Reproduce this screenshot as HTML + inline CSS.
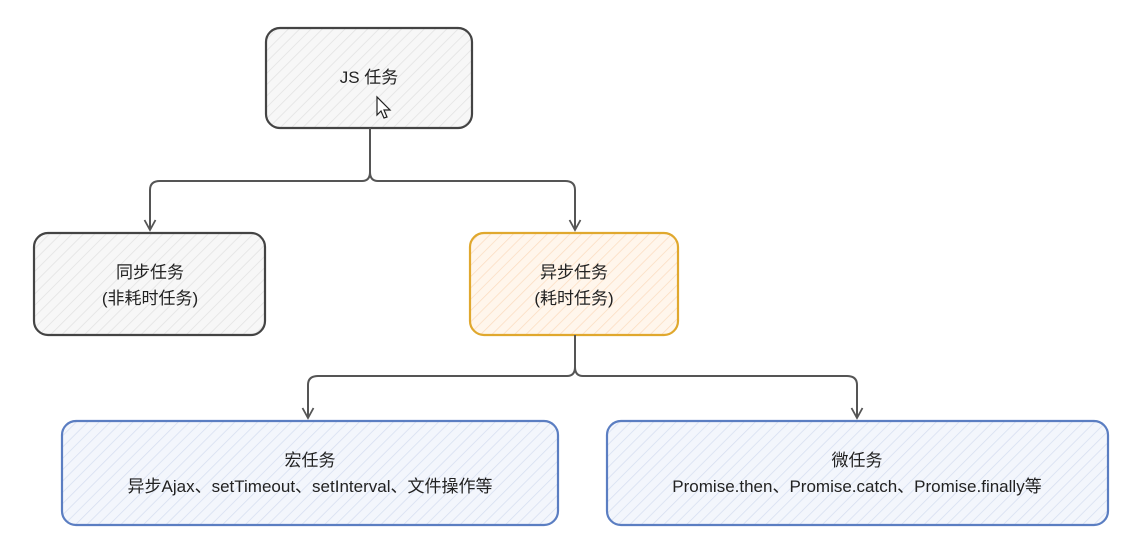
<!DOCTYPE html>
<html><head><meta charset="utf-8"><style>
html,body{margin:0;padding:0;background:#fff;}
svg{display:block}
text{font-family:"Liberation Sans","Noto Sans CJK SC",sans-serif;font-size:17px;fill:#222;text-anchor:middle}
</style></head><body>
<svg width="1141" height="552" viewBox="0 0 1141 552" xmlns="http://www.w3.org/2000/svg">
<defs>
<pattern id="hg" width="8" height="8" patternUnits="userSpaceOnUse" patternTransform="rotate(45)"><rect width="8" height="8" fill="#f7f7f7"/><line x1="0" y1="0" x2="0" y2="8" stroke="#e2e2e2" stroke-width="1.5"/></pattern>
<pattern id="ho" width="8" height="8" patternUnits="userSpaceOnUse" patternTransform="rotate(45)"><rect width="8" height="8" fill="#fff6ec"/><line x1="0" y1="0" x2="0" y2="8" stroke="#fbdcc0" stroke-width="1.5"/></pattern>
<pattern id="hb" width="8" height="8" patternUnits="userSpaceOnUse" patternTransform="rotate(45)"><rect width="8" height="8" fill="#f3f6fc"/><line x1="0" y1="0" x2="0" y2="8" stroke="#d6def0" stroke-width="1.5"/></pattern>
<marker id="ar" markerWidth="14" markerHeight="14" refX="11" refY="7" orient="auto" markerUnits="userSpaceOnUse"><path d="M1,1.5 L11,7 L1,12.5" fill="none" stroke="#555" stroke-width="1.8"/></marker>
</defs>
<g stroke-width="2.2">
<rect x="266" y="28" width="206" height="100" rx="14" fill="url(#hg)" stroke="#444"/>
<rect x="34" y="233" width="231" height="102" rx="14" fill="url(#hg)" stroke="#444"/>
<rect x="470" y="233" width="208" height="102" rx="14" fill="url(#ho)" stroke="#e0a82e"/>
<rect x="62" y="421" width="496" height="104" rx="14" fill="url(#hb)" stroke="#5b7ec2"/>
<rect x="607" y="421" width="501" height="104" rx="14" fill="url(#hb)" stroke="#5b7ec2"/>
</g>
<g fill="none" stroke="#555" stroke-width="2">
<path d="M370,128 L370,172 Q370,181 362,181 L160,181 Q150,181 150,190 L150,230" marker-end="url(#ar)"/>
<path d="M370,172 Q370,181 378,181 L565,181 Q575,181 575,190 L575,230" marker-end="url(#ar)"/>
<path d="M575,335 L575,367 Q575,376 567,376 L318,376 Q308,376 308,385 L308,418" marker-end="url(#ar)"/>
<path d="M575,367 Q575,376 583,376 L847,376 Q857,376 857,385 L857,418" marker-end="url(#ar)"/>
</g>
<path d="M377,97 L377,115 L381,111 L384,118 L387,117 L384,110 L390,110 Z" fill="#fff" stroke="#222" stroke-width="1.2"/>
<text x="369" y="83">JS 任务</text>
<text x="150" y="278">同步任务</text>
<text x="150" y="304">(非耗时任务)</text>
<text x="574" y="278">异步任务</text>
<text x="574" y="304">(耗时任务)</text>
<text x="310" y="466">宏任务</text>
<text x="310" y="492">异步Ajax、setTimeout、setInterval、文件操作等</text>
<text x="857" y="466">微任务</text>
<text x="857" y="492">Promise.then、Promise.catch、Promise.finally等</text>
</svg>
</body></html>
